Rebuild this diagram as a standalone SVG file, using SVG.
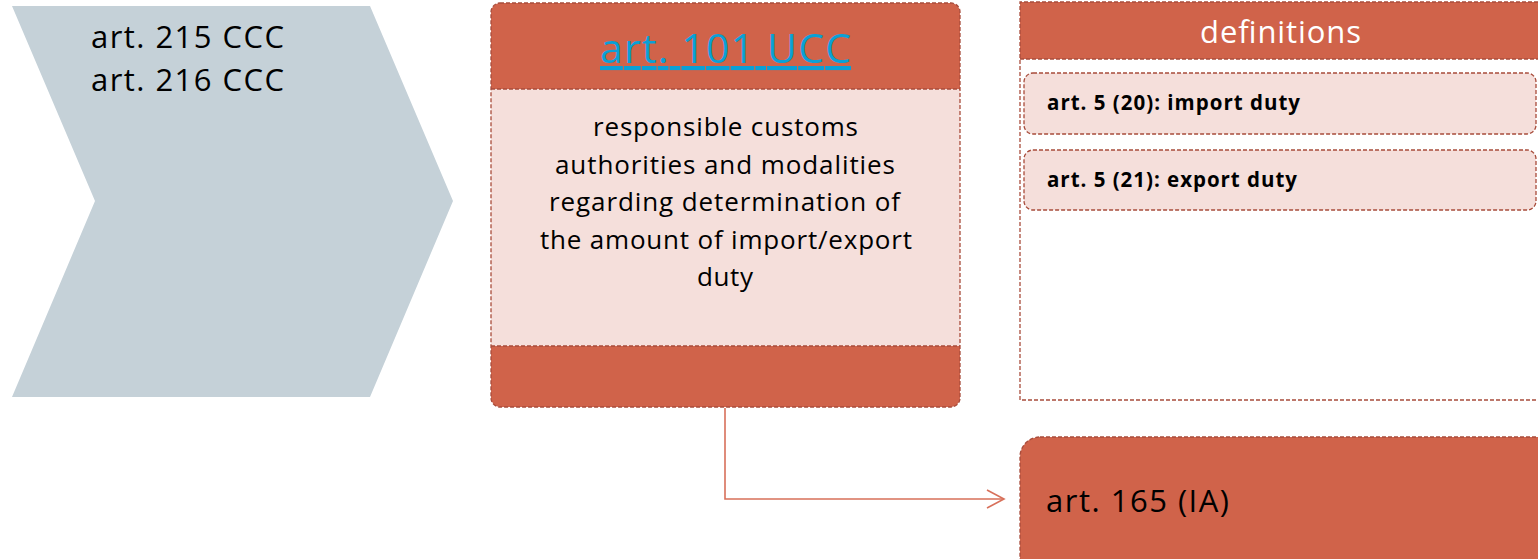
<svg xmlns="http://www.w3.org/2000/svg" width="1538" height="559" viewBox="0 0 1538 559">
<style>
.dash{stroke:#A84C3B;stroke-width:1.3;stroke-dasharray:4 2}
.or{fill:#D0634A}
.pk{fill:#F5DFDB}
.t{font-family:"Open Sans","Liberation Sans",sans-serif;fill:#000}
</style>
<defs>
<marker id="arr" viewBox="0 0 20 20" refX="18" refY="10" markerWidth="20" markerHeight="20" markerUnits="userSpaceOnUse" orient="auto">
<path d="M1,1 L18,10 L1,19" fill="none" stroke="#D8705A" stroke-width="1.6"/>
</marker>
<clipPath id="mclip"><rect x="491" y="3" width="469" height="404" rx="9"/></clipPath>
</defs>
<rect width="1538" height="559" fill="#fff"/>
<g id="chevron">
<polygon points="12,6 370,6 453,201 370,397 12,397 95,201" fill="#C5D1D8"/>
<text class="t" x="91" y="48" font-size="31" textLength="193" lengthAdjust="spacing">art. 215 CCC</text>
<text class="t" x="91" y="91" font-size="31" textLength="193" lengthAdjust="spacing">art. 216 CCC</text>
</g>
<g id="art101">
<g clip-path="url(#mclip)">
<rect x="491" y="3" width="469" height="404" class="or"/>
<rect x="491" y="89" width="469" height="257" class="pk"/>
<line x1="491" y1="89" x2="960" y2="89" class="dash"/>
<line x1="491" y1="346" x2="960" y2="346" class="dash"/>
</g>
<rect x="491" y="3" width="469" height="404" rx="9" fill="none" class="dash"/>
<text x="725.5" y="63" font-size="41" text-anchor="middle" font-family="'Open Sans','Liberation Sans',sans-serif" fill="#0AA0D6" text-decoration="underline" textLength="251" lengthAdjust="spacing">art. 101 UCC</text>
<g class="t" font-size="26" text-anchor="middle">
<text x="725.5" y="136" textLength="265" lengthAdjust="spacing">responsible customs</text>
<text x="725" y="174" textLength="340" lengthAdjust="spacing">authorities and modalities</text>
<text x="724.5" y="211" textLength="351" lengthAdjust="spacing">regarding determination of</text>
<text x="726" y="249" textLength="372" lengthAdjust="spacing">the amount of import/export</text>
<text x="725" y="286" textLength="56" lengthAdjust="spacing">duty</text>
</g>
</g>
<g id="definitions">
<rect x="1020" y="2" width="530" height="57" class="or"/>
<path d="M1550,2 H1020 V400 H1550" fill="none" class="dash"/>
<line x1="1020" y1="59" x2="1550" y2="59" class="dash"/>
<text x="1280.5" y="43" font-size="31" text-anchor="middle" font-family="'Open Sans','Liberation Sans',sans-serif" fill="#fff" textLength="161" lengthAdjust="spacing">definitions</text>
</g>
<g id="def-import">
<rect x="1024" y="73" width="512" height="61" rx="9" class="pk dash"/>
<text class="t" x="1047" y="110" font-size="20.5" font-weight="bold" textLength="253" lengthAdjust="spacing">art. 5 (20): import duty</text>
</g>
<g id="def-export">
<rect x="1024" y="150" width="512" height="60" rx="9" class="pk dash"/>
<text class="t" x="1047" y="187" font-size="20.5" font-weight="bold" textLength="250" lengthAdjust="spacing">art. 5 (21): export duty</text>
</g>
<g id="art165">
<rect x="1020" y="437" width="540" height="140" rx="20" class="or dash"/>
<text class="t" x="1046" y="512" font-size="31" textLength="183" lengthAdjust="spacing">art. 165 (IA)</text>
</g>
<g id="connectors">
<path d="M725,408 V499 H1004" fill="none" stroke="#D8705A" stroke-width="1.6" marker-end="url(#arr)"/>
</g>
</svg>
